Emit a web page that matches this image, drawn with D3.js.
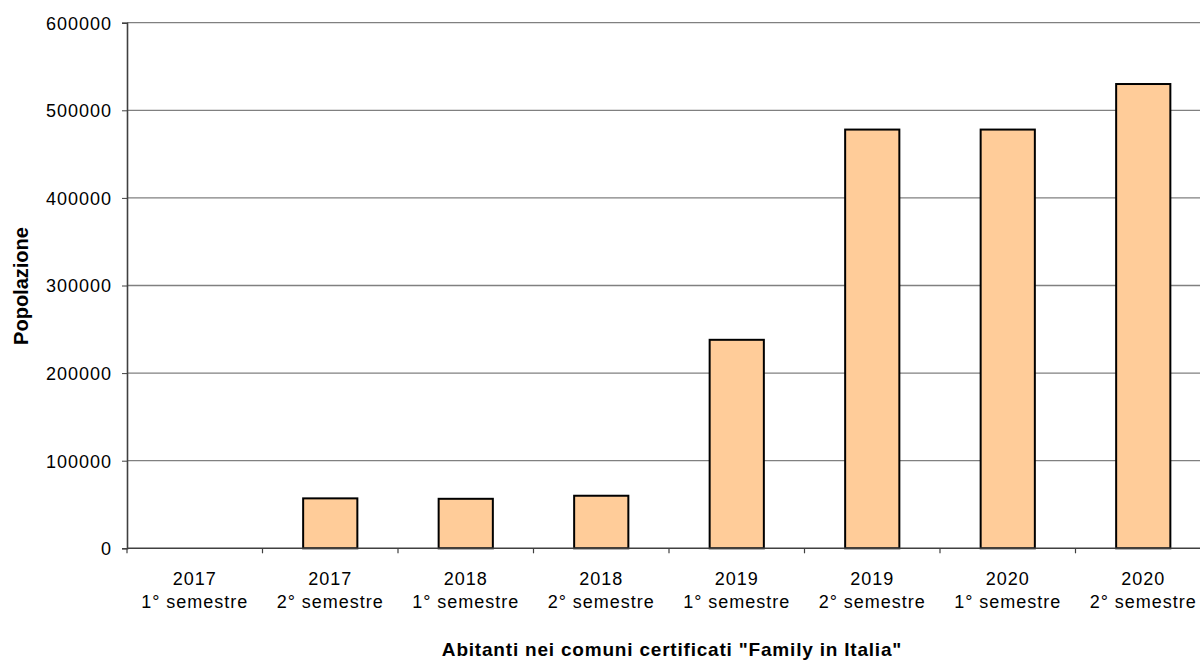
<!DOCTYPE html>
<html><head><meta charset="utf-8">
<script src="https://cdn.jsdelivr.net/npm/d3@7"></script>
<style>body{margin:0;background:#fff;}svg{display:block;}</style>
</head><body>
<svg id="chart" width="1200" height="662"></svg>
<script>
const years = ["2017","2017","2018","2018","2019","2019","2020","2020"];
const semesters = ["1° semestre","2° semestre","1° semestre","2° semestre","1° semestre","2° semestre","1° semestre","2° semestre"];
const values = [0, 57000, 56500, 60000, 238000, 478000, 478000, 530000];
const yTicks = [0, 100000, 200000, 300000, 400000, 500000, 600000];
const yTitle = "Popolazione";
const xTitle = "Abitanti nei comuni certificati \"Family in Italia\"";

const svg = d3.select("#chart");
const idx = d3.range(values.length);
const x = d3.scaleBand().domain(idx).range([127, 1211]).paddingInner(0).paddingOuter(0);
const y = d3.scaleLinear().domain([0, 600000]).range([548.3, 22.7]);
const font = "'Liberation Sans', Arial, sans-serif";

// gridlines
svg.append("g").selectAll("line").data(yTicks.filter(d => d > 0)).join("line")
  .attr("x1", 127).attr("x2", 1200)
  .attr("y1", d => y(d)).attr("y2", d => y(d))
  .attr("stroke", "#808080").attr("stroke-width", 1.3);

// y axis
const yAxis = svg.append("g").attr("transform", "translate(127,0)")
  .call(d3.axisLeft(y).tickValues(yTicks).tickSize(5).tickPadding(10).tickFormat(d3.format("d")));
yAxis.select(".domain").attr("stroke", "#404040").attr("stroke-width", 1.6);
yAxis.selectAll(".tick line").attr("stroke", "#404040");
yAxis.selectAll("text").attr("font-family", font).attr("font-size", 18).attr("fill", "#000")
  .attr("letter-spacing", 1.0).attr("dy", "0.35em");

// bars
svg.append("g").selectAll("rect").data(idx).join("rect")
  .attr("x", i => x(i) + x.bandwidth() * 0.3)
  .attr("width", x.bandwidth() * 0.4)
  .attr("y", i => y(values[i]))
  .attr("height", i => y(0) - y(values[i]))
  .attr("fill", "#FFCC99").attr("stroke", "#000").attr("stroke-width", 2)
  .attr("display", i => values[i] > 0 ? null : "none");

// x axis baseline + ticks
const xg = svg.append("g");
xg.append("line").attr("x1", 127).attr("x2", 1200).attr("y1", y(0)).attr("y2", y(0))
  .attr("stroke", "#404040").attr("stroke-width", 1.6);
xg.selectAll("line.tk").data(d3.range(values.length + 1)).join("line").attr("class", "tk")
  .attr("x1", i => 127 + i * x.bandwidth()).attr("x2", i => 127 + i * x.bandwidth())
  .attr("y1", y(0)).attr("y2", y(0) + 5).attr("stroke", "#404040").attr("stroke-width", 1.2);

const lab = xg.selectAll("text.cat").data(idx).join("text").attr("class", "cat")
  .attr("text-anchor", "middle").attr("font-family", font).attr("font-size", 18)
  .attr("letter-spacing", 1.0).attr("fill", "#000");
lab.append("tspan").attr("x", i => x(i) + x.bandwidth() / 2).attr("y", 585).text(i => years[i]);
lab.append("tspan").attr("x", i => x(i) + x.bandwidth() / 2).attr("y", 608).text(i => semesters[i]);

// titles
svg.append("text").attr("transform", "translate(28,286) rotate(-90)")
  .attr("text-anchor", "middle").attr("font-family", font).attr("font-weight", "bold")
  .attr("font-size", 20).attr("fill", "#000").text(yTitle);
svg.append("text").attr("x", 672).attr("y", 656)
  .attr("text-anchor", "middle").attr("font-family", font).attr("font-weight", "bold")
  .attr("font-size", 19).attr("letter-spacing", 0.8).attr("fill", "#000").text(xTitle);
</script>
</body></html>
